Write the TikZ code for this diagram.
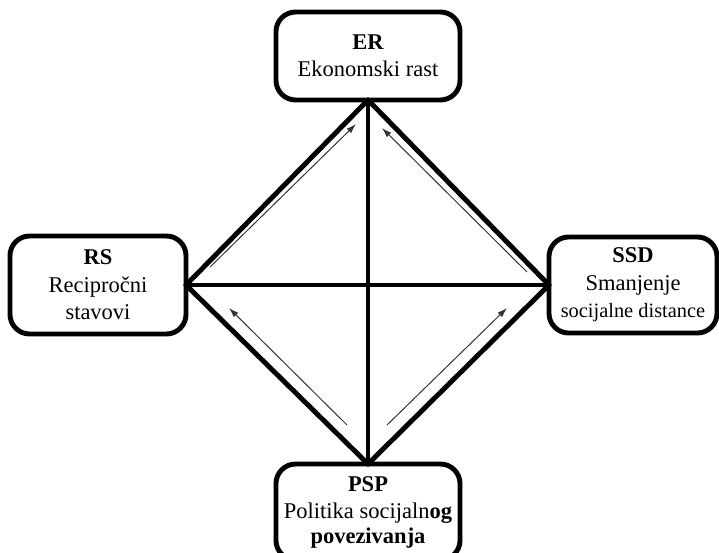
\documentclass[tikz,border=0pt]{standalone}
\usepackage{fontspec}
\setmainfont{Liberation Serif}
\usetikzlibrary{arrows.meta}
\tikzset{
	box/.style={draw, line width=3.5pt, rounded corners=14pt, align=center, inner sep=0pt, outer sep=0pt, font=\fontsize{16}{19.5}\selectfont},
	link/.style={line width=3.5pt, line cap=round},
	flow/.style={-{Latex[length=7pt,width=4.5pt]}, line width=0.7pt, draw=black!80}
}
\begin{document}
\begin{tikzpicture}[x=0.025cm, y=-0.025cm]
	\useasboundingbox (0,0) rectangle (719,553);
	\node[box, minimum width=4.6cm, minimum height=2.2cm] (er) at (368,56) {\textbf{ER}\\Ekonomski rast};
	\node[box, minimum width=4.4cm, minimum height=2.45cm] (rs) at (98,285) {\textbf{RS}\\Recipročni\\stavovi};
	\node[box, minimum width=4.2cm, minimum height=2.4cm] (ssd) at (633,285) {\textbf{SSD}\\Smanjenje\\{\fontsize{14.5}{17}\selectfont socijalne distance}};
	\node[box, minimum width=4.6cm, minimum height=2.4cm] (psp) at (368,512) {\textbf{PSP}\\Politika socijaln\textbf{og}\\[-2pt]\textbf{povezivanja}};
	\draw[link] (er.south) -- (rs.east);
	\draw[link] (er.south) -- (ssd.west);
	\draw[link] (psp.north) -- (rs.east);
	\draw[link] (psp.north) -- (ssd.west);
	\draw[link] (er.south) -- (psp.north);
	\draw[link] (rs.east) -- (ssd.west);
	\coordinate (a1) at (210,267);
	\coordinate (b1) at (356,124);
	\coordinate (a2) at (527,272);
	\coordinate (b2) at (382,128);
	\coordinate (a3) at (347,425);
	\coordinate (b3) at (229,308);
	\coordinate (a4) at (387,425);
	\coordinate (b4) at (507,308);
	\draw[flow] (a1) -- (b1);
	\draw[flow] (a2) -- (b2);
	\draw[flow] (a3) -- (b3);
	\draw[flow] (a4) -- (b4);
\end{tikzpicture}
\end{document}
